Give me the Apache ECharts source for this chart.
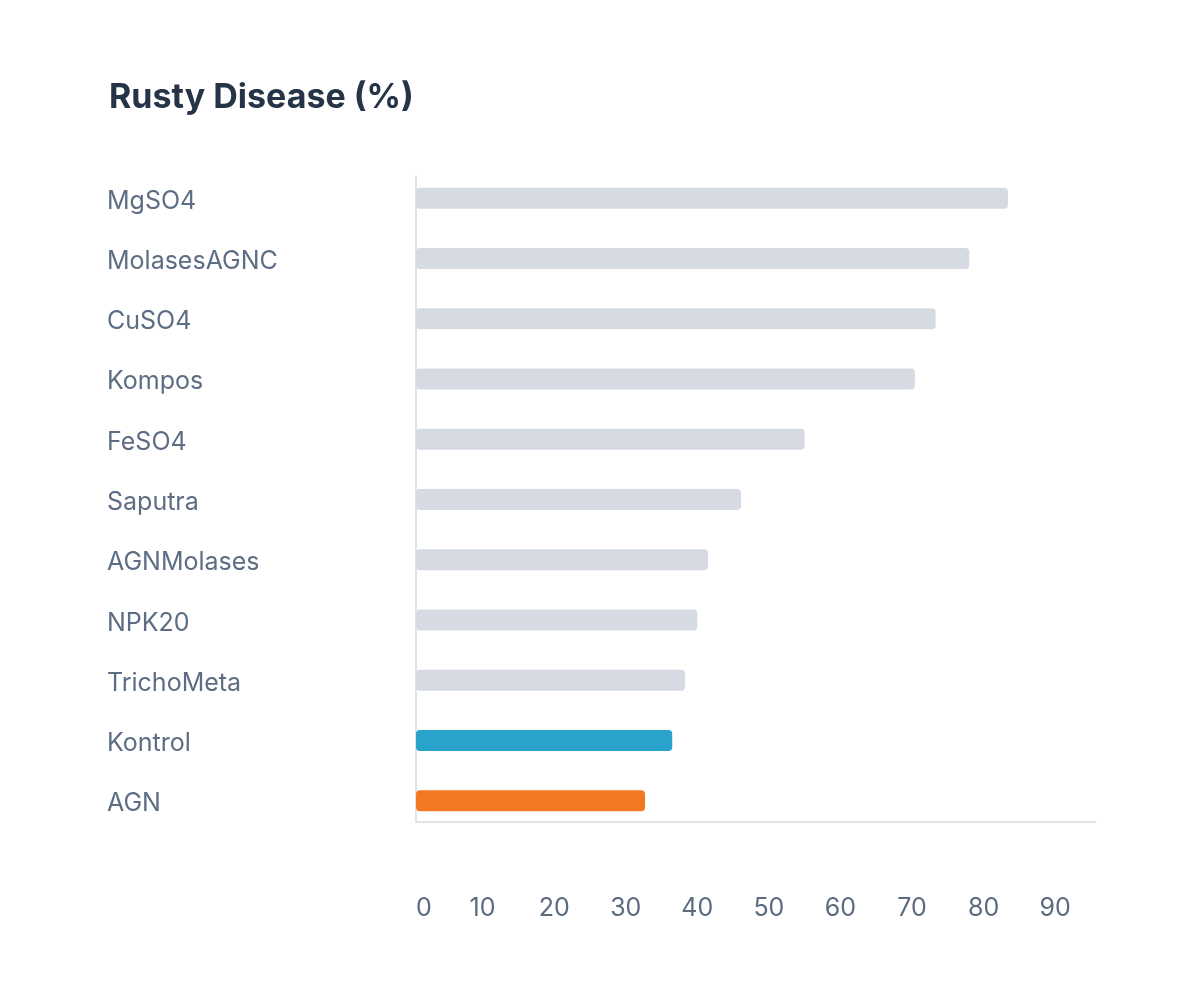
<!DOCTYPE html>
<html>
<head>
<meta charset="utf-8">
<script src="https://cdn.jsdelivr.net/npm/echarts@6/dist/echarts.min.js"></script>
<style>
  html, body { margin: 0; padding: 0; background: #fff; }
  #main { width: 1200px; height: 994px; }
</style>
</head>
<body>
<div id="main"></div>
<script>
// data
var categories = ['MgSO4', 'MolasesAGNC', 'CuSO4', 'Kompos', 'FeSO4', 'Saputra',
  'AGNMolases', 'NPK20', 'TrichoMeta', 'Kontrol', 'AGN'];
var values = [82.7, 77.3, 72.6, 69.7, 54.3, 45.4, 40.8, 39.3, 37.6, 35.8, 32.0];
var axisMax = 95;
var tickStep = 10;

// bars that are picked out
var highlight = { Kontrol: '#29a3cc', AGN: '#f47721' };
var baseColor = '#d6dbe3';
var textFont = 'Inter, "Noto Sans", sans-serif';

var myChart = echarts.init(document.getElementById('main'));

var option = {
  backgroundColor: '#fff',
  animation: false,
  title: {
    text: 'Rusty Disease (%)',
    left: 104,
    top: 76,
    textStyle: {
      fontFamily: textFont,
      fontSize: 34,
      fontWeight: 'bold',
      color: '#263447'
    }
  },
  grid: [
    { left: 416, top: 168, width: 680, height: 663 },
    { left: 416, top: 176, width: 680, height: 646 }
  ],
  xAxis: [
    {
      gridIndex: 0,
      type: 'value',
      min: 0,
      max: axisMax,
      interval: tickStep,
      axisLine: { show: false },
      axisTick: { show: false },
      splitLine: { show: false },
      axisLabel: {
        margin: 65,
        showMaxLabel: false,
        formatter: function (v) {
          return v === 0 ? '{z|0}' : '{n|' + v + '}';
        },
        rich: {
          z: { fontFamily: textFont, fontSize: 25, color: '#5b6b80', padding: [0, 0, 0, 16] },
          n: { fontFamily: textFont, fontSize: 25, color: '#5b6b80', padding: [0, 10, 0, 0] }
        }
      }
    },
    {
      gridIndex: 1,
      type: 'value',
      min: 0,
      max: axisMax,
      axisLine: { show: true, lineStyle: { color: '#d5dae1', width: 1.5 } },
      axisTick: { show: false },
      splitLine: { show: false },
      axisLabel: { show: false }
    }
  ],
  yAxis: [
    {
      gridIndex: 0,
      type: 'category',
      inverse: true,
      data: categories,
      axisLine: { show: false },
      axisTick: { show: false },
      axisLabel: {
        align: 'left',
        margin: 309,
        formatter: '{c|{value}}',
        rich: {
          c: { fontFamily: textFont, fontSize: 25, color: '#5d6d84', padding: [6, 0, 0, 0] }
        }
      }
    },
    {
      gridIndex: 1,
      type: 'value',
      min: 0,
      max: 1,
      axisLine: { show: true, lineStyle: { color: '#d5dae1', width: 1.5 } },
      axisTick: { show: false },
      splitLine: { show: false },
      axisLabel: { show: false }
    }
  ],
  series: [
    {
      type: 'bar',
      xAxisIndex: 0,
      yAxisIndex: 0,
      data: values,
      barWidth: 21,
      itemStyle: {
        borderRadius: 4,
        color: function (p) {
          return highlight[p.name] || baseColor;
        }
      }
    }
  ]
};

myChart.setOption(option);
</script>
</body>
</html>
